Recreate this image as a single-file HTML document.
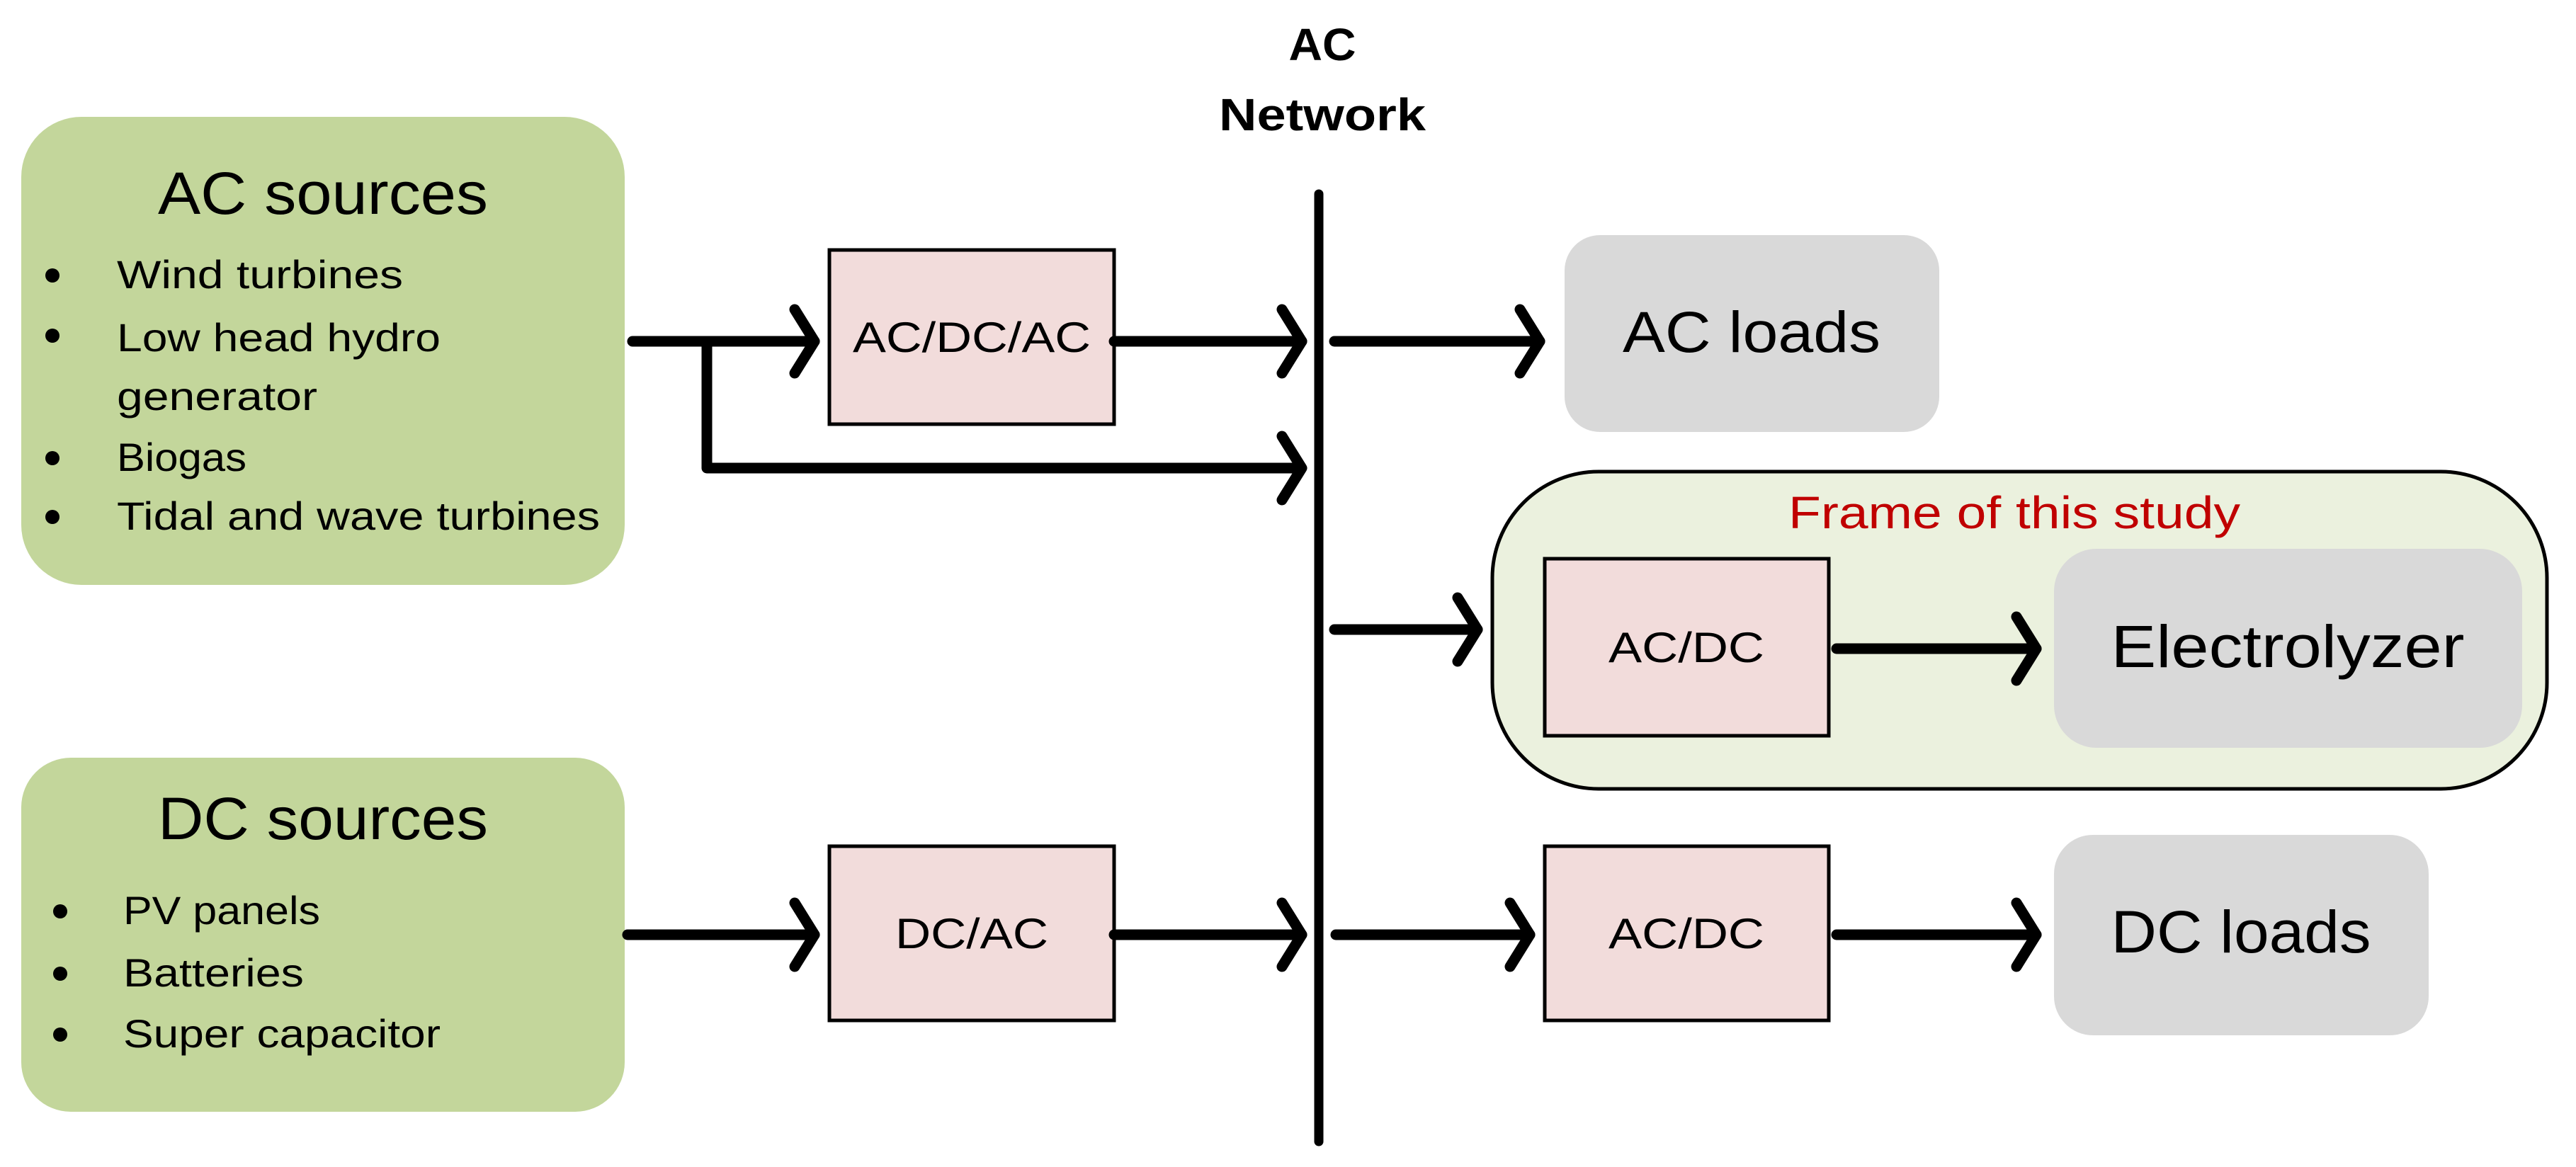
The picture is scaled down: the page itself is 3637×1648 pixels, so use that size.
<!DOCTYPE html>
<html><head><meta charset="utf-8"><style>
html,body{margin:0;padding:0;background:#fff;}
svg{display:block;}
text{font-family:"Liberation Sans",sans-serif;fill:#000;}
</style></head><body>
<svg width="3637" height="1648" viewBox="0 0 3637 1648" xmlns="http://www.w3.org/2000/svg">
<defs>
<marker id="ah" viewBox="0 0 10 10" refX="9" refY="5" markerWidth="0" markerHeight="0"></marker>
</defs>
<!-- AC Network label -->
<text x="1867" y="85" font-size="64" font-weight="bold" text-anchor="middle" textLength="95" lengthAdjust="spacingAndGlyphs">AC</text>
<text x="1867" y="184" font-size="64" font-weight="bold" text-anchor="middle" textLength="292" lengthAdjust="spacingAndGlyphs">Network</text>
<!-- bus -->
<line x1="1862" y1="274" x2="1862" y2="1612" stroke="#000" stroke-width="13" stroke-linecap="round"/>

<!-- AC sources -->
<rect x="30" y="165" width="852" height="661" rx="85" fill="#c3d69b"/>
<text x="456" y="302" font-size="84" text-anchor="middle" textLength="466" lengthAdjust="spacingAndGlyphs">AC sources</text>
<g font-size="56">
<circle cx="74" cy="389" r="10"/><text x="165" y="407" textLength="404" lengthAdjust="spacingAndGlyphs">Wind turbines</text>
<circle cx="74" cy="474" r="10"/><text x="165" y="496" textLength="457" lengthAdjust="spacingAndGlyphs">Low head hydro</text>
<text x="165" y="579" textLength="283" lengthAdjust="spacingAndGlyphs">generator</text>
<circle cx="74" cy="647" r="10"/><text x="165" y="665" textLength="183" lengthAdjust="spacingAndGlyphs">Biogas</text>
<circle cx="74" cy="730" r="10"/><text x="165" y="748" textLength="682" lengthAdjust="spacingAndGlyphs">Tidal and wave turbines</text>
</g>

<!-- DC sources -->
<rect x="30" y="1070" width="852" height="500" rx="70" fill="#c3d69b"/>
<text x="456" y="1185" font-size="84" text-anchor="middle" textLength="466" lengthAdjust="spacingAndGlyphs">DC sources</text>
<g font-size="56">
<circle cx="85" cy="1287" r="10"/><text x="174" y="1305" textLength="278" lengthAdjust="spacingAndGlyphs">PV panels</text>
<circle cx="85" cy="1375" r="10"/><text x="174" y="1393" textLength="255" lengthAdjust="spacingAndGlyphs">Batteries</text>
<circle cx="85" cy="1461" r="10"/><text x="174" y="1479" textLength="448" lengthAdjust="spacingAndGlyphs">Super capacitor</text>
</g>

<!-- converter boxes -->
<g fill="#f2dcdb" stroke="#000" stroke-width="5">
<rect x="1171" y="353" width="402" height="246"/>
<rect x="1171" y="1195" width="402" height="246"/>
</g>
<text x="1372" y="497" font-size="60" text-anchor="middle" textLength="336" lengthAdjust="spacingAndGlyphs">AC/DC/AC</text>
<text x="1372" y="1339" font-size="60" text-anchor="middle" textLength="216" lengthAdjust="spacingAndGlyphs">DC/AC</text>

<!-- AC loads -->
<rect x="2209" y="332" width="529" height="278" rx="50" fill="#d9d9d9"/>
<text x="2473" y="497" font-size="82" text-anchor="middle" textLength="364" lengthAdjust="spacingAndGlyphs">AC loads</text>

<!-- Frame -->
<rect x="2107" y="666" width="1489" height="448" rx="150" fill="#ebf1de" stroke="#000" stroke-width="5"/>
<text x="2844" y="746" font-size="64" fill="#c00000" style="fill:#c00000" text-anchor="middle" textLength="638" lengthAdjust="spacingAndGlyphs">Frame of this study</text>
<rect x="2181" y="789" width="401" height="250" fill="#f2dcdb" stroke="#000" stroke-width="5"/>
<text x="2381" y="935" font-size="60" text-anchor="middle" textLength="220" lengthAdjust="spacingAndGlyphs">AC/DC</text>
<rect x="2900" y="775" width="661" height="281" rx="60" fill="#d9d9d9"/>
<text x="3230" y="942" font-size="84" text-anchor="middle" textLength="499" lengthAdjust="spacingAndGlyphs">Electrolyzer</text>

<!-- lower AC/DC + DC loads -->
<rect x="2181" y="1195" width="401" height="246" fill="#f2dcdb" stroke="#000" stroke-width="5"/>
<text x="2381" y="1339" font-size="60" text-anchor="middle" textLength="220" lengthAdjust="spacingAndGlyphs">AC/DC</text>
<rect x="2900" y="1179" width="529" height="283" rx="55" fill="#d9d9d9"/>
<text x="3164" y="1345" font-size="84" text-anchor="middle" textLength="367" lengthAdjust="spacingAndGlyphs">DC loads</text>

<!-- connectors -->
<g stroke="#000" stroke-width="15" fill="none" stroke-linecap="round" stroke-linejoin="round">
<!-- AC sources -> AC/DC/AC -->
<line x1="893" y1="482" x2="1150" y2="482"/>
<polyline points="1122,437 1150,482 1122,527"/>
<!-- branch -->
<polyline points="998,482 998,661 1838,661" stroke-linecap="butt"/>
<polyline points="1810,616 1838,661 1810,706"/>
<!-- AC/DC/AC -> bus -->
<line x1="1573" y1="482" x2="1838" y2="482"/>
<polyline points="1810,437 1838,482 1810,527"/>
<!-- bus -> AC loads -->
<line x1="1884" y1="482" x2="2174" y2="482"/>
<polyline points="2146,437 2174,482 2146,527"/>
<!-- bus -> frame -->
<line x1="1884" y1="889" x2="2086" y2="889"/>
<polyline points="2058,844 2086,889 2058,934"/>
<!-- AC/DC -> electrolyzer -->
<line x1="2593" y1="916" x2="2875" y2="916"/>
<polyline points="2847,871 2875,916 2847,961"/>
<!-- DC sources -> DC/AC -->
<line x1="886" y1="1320" x2="1150" y2="1320"/>
<polyline points="1122,1275 1150,1320 1122,1365"/>
<!-- DC/AC -> bus -->
<line x1="1573" y1="1320" x2="1838" y2="1320"/>
<polyline points="1810,1275 1838,1320 1810,1365"/>
<!-- bus -> AC/DC -->
<line x1="1886" y1="1320" x2="2160" y2="1320"/>
<polyline points="2132,1275 2160,1320 2132,1365"/>
<!-- AC/DC -> DC loads -->
<line x1="2593" y1="1320" x2="2875" y2="1320"/>
<polyline points="2847,1275 2875,1320 2847,1365"/>
</g>
</svg>
</body></html>
